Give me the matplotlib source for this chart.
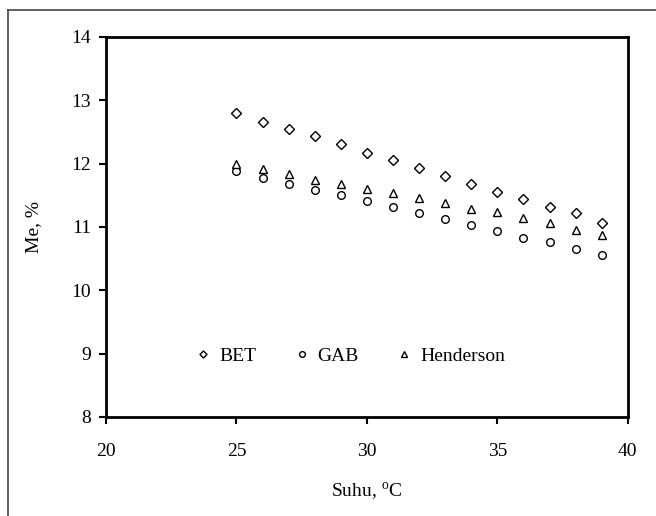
import matplotlib
matplotlib.use("Agg")
from matplotlib import pyplot as plt
from matplotlib.lines import Line2D

# temperatures, deg C
suhu = [25, 26, 27, 28, 29, 30, 31, 32, 33, 34, 35, 36, 37, 38, 39]
# equilibrium moisture content, %
bet = [12.80, 12.66, 12.55, 12.43, 12.31, 12.17, 12.05, 11.93, 11.81, 11.68, 11.56, 11.44, 11.32, 11.22, 11.07]
gab = [11.88, 11.78, 11.68, 11.58, 11.51, 11.41, 11.31, 11.22, 11.13, 11.03, 10.94, 10.83, 10.76, 10.66, 10.56]
henderson = [11.99, 11.91, 11.83, 11.74, 11.68, 11.60, 11.53, 11.45, 11.38, 11.29, 11.24, 11.14, 11.06, 10.96, 10.87]

xticks = [20, 25, 30, 35, 40]
yticks = [8, 9, 10, 11, 12, 13, 14]

plt.rcParams['font.family'] = ['Liberation Serif', 'DejaVu Serif']
plt.rcParams['mathtext.fontset'] = 'custom'
plt.rcParams['mathtext.rm'] = 'Liberation Serif'

fig = plt.figure(figsize=(6.56, 5.16), dpi=100)
ax = fig.add_axes([0.1616, 0.1919, 0.7954, 0.7364])

mk = dict(linestyle='none', markerfacecolor='white', markeredgecolor='black',
          markeredgewidth=1.0, markersize=5.5)
ax.plot(suhu, bet, marker='D', label='BET', **dict(mk, markersize=4.8))
ax.plot(suhu, gab, marker='o', label='GAB', **mk)
ax.plot(suhu, henderson, marker='^', label='Henderson', **mk)

ax.set_xlim(20, 40)
ax.set_ylim(8, 14)
ax.set_xticks(xticks)
ax.set_yticks(yticks)
ax.tick_params(direction='out', length=5, width=1.5, labelsize=14, pad=6)
ax.tick_params(axis='x', pad=14)
for s in ax.spines.values():
    s.set_linewidth(2)

ax.set_xlabel('Suhu, $^{\\rm o}$C', fontsize=14, labelpad=15)
ax.set_ylabel('Me, %', fontsize=14, labelpad=21)

ax.legend(loc='center left', bbox_to_anchor=(0.17, 0.16), ncol=3, frameon=False,
          fontsize=14, handlelength=0.9, handletextpad=0.35, columnspacing=1.9,
          markerscale=0.75, borderaxespad=0, borderpad=0)

# outer frame (left and top edges only visible)
fig.add_artist(Line2D([0.0128, 0.0128], [0.0, 0.9797], transform=fig.transFigure,
                      color='#444444', linewidth=1.2))
fig.add_artist(Line2D([0.0128, 1.0], [0.9797, 0.9797], transform=fig.transFigure,
                      color='#444444', linewidth=1.2))

fig.savefig('out.png', dpi=100)
